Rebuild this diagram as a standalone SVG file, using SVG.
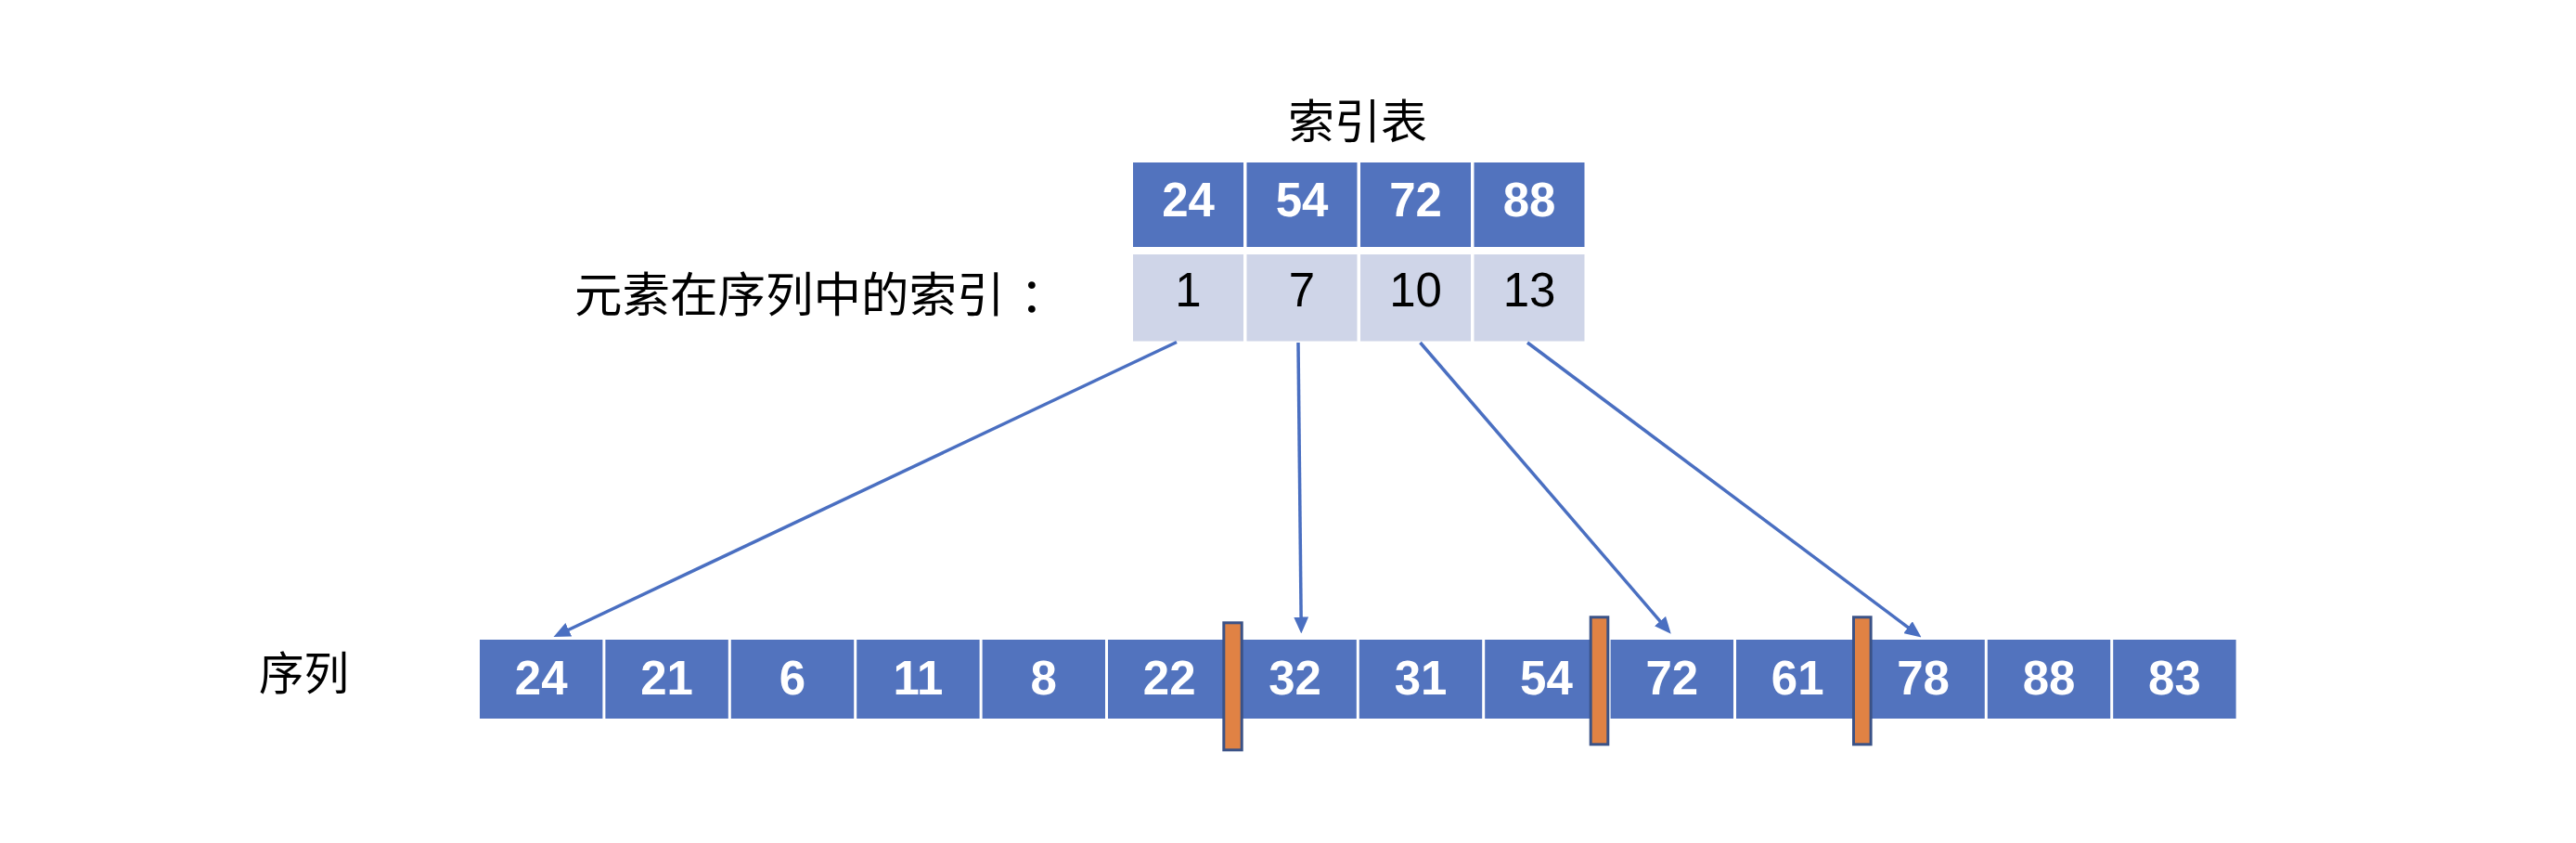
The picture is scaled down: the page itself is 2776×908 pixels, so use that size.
<svg xmlns="http://www.w3.org/2000/svg" width="2776" height="908" viewBox="0 0 2776 908">
<defs>
<style>
.bg{fill:#ffffff}
.cell{fill:#5273BE}
.lcell{fill:#CFD5E8}
.bar{fill:#E08244;stroke:#3A5287;stroke-width:3}
.wnum{font-family:"Liberation Sans",Arial,sans-serif;font-weight:bold;font-size:51px;fill:#ffffff;text-anchor:middle}
.bnum{font-family:"Liberation Sans",Arial,sans-serif;font-size:51px;fill:#000000;text-anchor:middle}
.cjk{font-family:"Noto Sans CJK SC","Noto Sans",sans-serif;fill:#000000}
.conn{stroke:#4A6FC1;stroke-width:3.5;fill:none;marker-end:url(#ah)}
</style>
<marker id="ah" markerWidth="18" markerHeight="16" refX="4" refY="8" orient="auto" markerUnits="userSpaceOnUse">
<path d="M0,0 L18,8 L0,16 Z" fill="#4A6FC1"/>
</marker>
</defs>
<rect class="bg" x="0" y="0" width="2776" height="908"/>

<g id="title">
<text class="cjk" x="1463" y="149" font-size="50" text-anchor="middle">索引表</text>
</g>

<g id="index-label">
<text class="cjk" x="619" y="336" font-size="51.5">元素在序列中的索引<tspan x="1099">：</tspan></text>
</g>

<g id="sequence-label">
<text class="cjk" x="279" y="743" font-size="48.5">序列</text>
</g>

<g id="index-table">
<g id="idx-0">
<rect class="cell" x="1221" y="175" width="119" height="91"/>
<text class="wnum" x="1280.5" y="233">24</text>
<rect class="lcell" x="1221" y="274" width="119" height="93.5"/>
<text class="bnum" x="1280.5" y="330">1</text>
</g>
<g id="idx-1">
<rect class="cell" x="1343.5" y="175" width="119" height="91"/>
<text class="wnum" x="1403" y="233">54</text>
<rect class="lcell" x="1343.5" y="274" width="119" height="93.5"/>
<text class="bnum" x="1403" y="330">7</text>
</g>
<g id="idx-2">
<rect class="cell" x="1466" y="175" width="119" height="91"/>
<text class="wnum" x="1525.5" y="233">72</text>
<rect class="lcell" x="1466" y="274" width="119" height="93.5"/>
<text class="bnum" x="1525.5" y="330">10</text>
</g>
<g id="idx-3">
<rect class="cell" x="1588.5" y="175" width="119" height="91"/>
<text class="wnum" x="1648" y="233">88</text>
<rect class="lcell" x="1588.5" y="274" width="119" height="93.5"/>
<text class="bnum" x="1648" y="330">13</text>
</g>
</g>

<g id="sequence">
<g id="seq-0"><rect class="cell" x="517" y="689" width="132.4" height="85"/><text class="wnum" x="583.2" y="748">24</text></g>
<g id="seq-1"><rect class="cell" x="652.4" y="689" width="132.4" height="85"/><text class="wnum" x="718.6" y="748">21</text></g>
<g id="seq-2"><rect class="cell" x="787.8" y="689" width="132.4" height="85"/><text class="wnum" x="854" y="748">6</text></g>
<g id="seq-3"><rect class="cell" x="923.2" y="689" width="132.4" height="85"/><text class="wnum" x="989.4" y="748">11</text></g>
<g id="seq-4"><rect class="cell" x="1058.6" y="689" width="132.4" height="85"/><text class="wnum" x="1124.8" y="748">8</text></g>
<g id="seq-5"><rect class="cell" x="1194" y="689" width="132.4" height="85"/><text class="wnum" x="1260.2" y="748">22</text></g>
<g id="seq-6"><rect class="cell" x="1329.4" y="689" width="132.4" height="85"/><text class="wnum" x="1395.6" y="748">32</text></g>
<g id="seq-7"><rect class="cell" x="1464.8" y="689" width="132.4" height="85"/><text class="wnum" x="1531" y="748">31</text></g>
<g id="seq-8"><rect class="cell" x="1600.2" y="689" width="132.4" height="85"/><text class="wnum" x="1666.4" y="748">54</text></g>
<g id="seq-9"><rect class="cell" x="1735.6" y="689" width="132.4" height="85"/><text class="wnum" x="1801.8" y="748">72</text></g>
<g id="seq-10"><rect class="cell" x="1871" y="689" width="132.4" height="85"/><text class="wnum" x="1937.2" y="748">61</text></g>
<g id="seq-11"><rect class="cell" x="2006.4" y="689" width="132.4" height="85"/><text class="wnum" x="2072.6" y="748">78</text></g>
<g id="seq-12"><rect class="cell" x="2141.8" y="689" width="132.4" height="85"/><text class="wnum" x="2208" y="748">88</text></g>
<g id="seq-13"><rect class="cell" x="2277.2" y="689" width="132.4" height="85"/><text class="wnum" x="2343.4" y="748">83</text></g>
</g>

<g id="separators">
<rect class="bar" x="1318.8" y="670.8" width="19.4" height="137"/>
<rect class="bar" x="1714.2" y="664.8" width="18.6" height="137"/>
<rect class="bar" x="1997.5" y="664.8" width="18.6" height="137"/>
</g>

<g id="connectors">
<line class="conn" x1="1268" y1="368.5" x2="609.2" y2="680"/>
<line class="conn" x1="1399" y1="369" x2="1402.15" y2="668.5"/>
<line class="conn" x1="1530.5" y1="369" x2="1791.6" y2="672.1"/>
<line class="conn" x1="1646" y1="369" x2="2059.3" y2="678.1"/>
</g>
</svg>
